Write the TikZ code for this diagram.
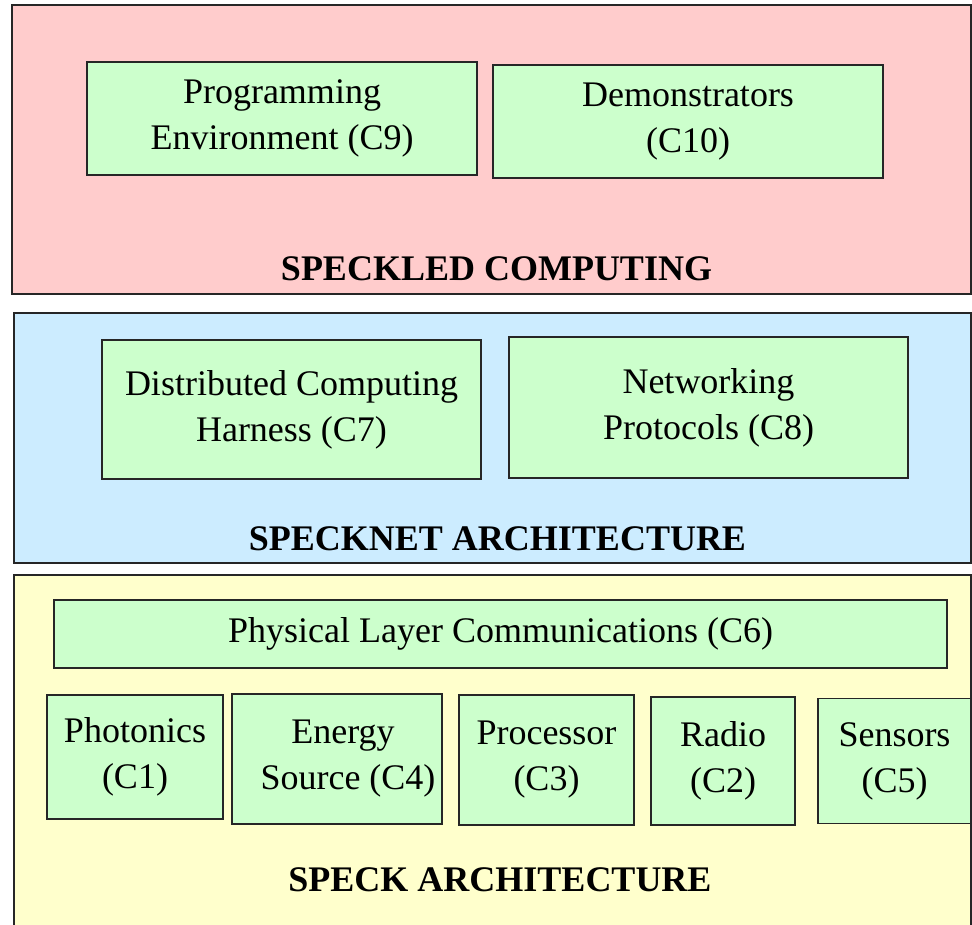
\documentclass[tikz,border=0pt]{standalone}
\usepackage{fontspec}
\setmainfont{Liberation Serif}
\usepackage{tikz}
\usetikzlibrary{positioning}

\definecolor{panelred}{HTML}{FFCCCC}
\definecolor{panelblue}{HTML}{CCECFF}
\definecolor{panelyellow}{HTML}{FFFFCC}
\definecolor{boxgreen}{HTML}{CCFFCC}

\begin{document}
\begin{tikzpicture}[x=1pt,y=-1pt,
    panel/.style={draw=black!85,line width=1.5pt,inner sep=0pt},
    compbox/.style={draw=black!85,line width=1.5pt,fill=boxgreen,align=center,
      inner sep=0pt,font=\fontsize{36}{46}\selectfont},
    title/.style={inner sep=0pt,font=\fontsize{36}{46}\selectfont\bfseries}]
    \useasboundingbox[fill=white] (0,0) rectangle (972,924);

    % layers
    \node(speckled)[panel,fill=panelred,minimum width=959pt,minimum height=289pt] at (491.5,149.5){};
    \node(specknet)[panel,fill=panelblue,minimum width=957pt,minimum height=250pt] at (492.5,438){};
    \node(speck)[panel,fill=panelyellow,minimum width=957pt,minimum height=360pt] at (492.5,755){};

    \node(speckled_title)[title,above=14pt of speckled.south,xshift=5pt]{SPECKLED COMPUTING};
    \node(specknet_title)[title,above=13pt of specknet.south,xshift=5pt]{SPECKNET ARCHITECTURE};
    \node(speck_title)[title,anchor=south] at (500,892){SPECK ARCHITECTURE};

    % speckled computing
    \node(prog_env)[compbox,minimum width=390pt,minimum height=113pt] at (282,118.5)
      {Programming\\Environment (C9)};
    \node(demonstrators)[compbox,minimum width=390pt,minimum height=113pt,right=14.5pt of prog_env,yshift=-3pt]
      {Demonstrators\\(C10)};

    % specknet
    \node(dist_harness)[compbox,minimum width=379pt,minimum height=139pt] at (291.5,409.5)
      {Distributed Computing\\Harness (C7)};
    \node(net_protocols)[compbox,minimum width=399pt,minimum height=141pt,right=26.5pt of dist_harness,yshift=2pt]
      {Networking\\Protocols (C8)};

    % speck
    \node(phys_layer)[compbox,minimum width=893pt,minimum height=68pt] at (500.5,634)
      {Physical Layer Communications (C6)};
    \node(photonics)[compbox,minimum width=176pt,minimum height=124pt] at (135,757)
      {Photonics\\(C1)};
    \node(energy)[compbox,minimum width=210pt,minimum height=130pt,right=7.5pt of photonics,yshift=-2pt]
      {\hspace*{12pt}Energy\\\hspace*{22pt}Source (C4)};
    \node(processor)[compbox,minimum width=175pt,minimum height=130pt,right=15.5pt of energy,yshift=-1pt]
      {Processor\\(C3)};
    \node(radio)[compbox,minimum width=144pt,minimum height=128pt,right=15.5pt of processor,yshift=-1pt]
      {Radio\\(C2)};
    \node(sensors)[compbox,minimum width=153pt,minimum height=125pt,right=21.5pt of radio]
      {Sensors\\(C5)};
\end{tikzpicture}
\end{document}
